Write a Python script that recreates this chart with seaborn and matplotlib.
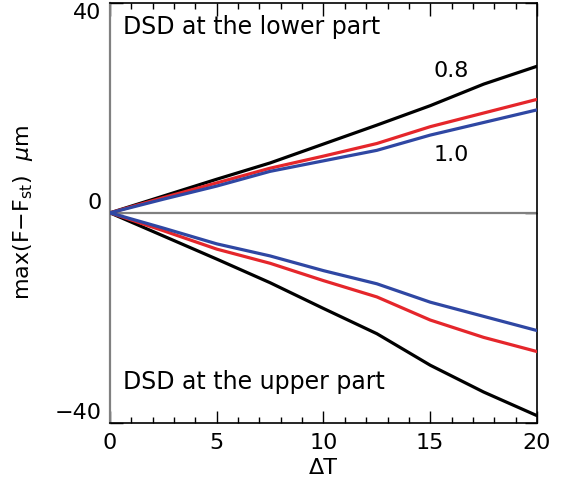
import matplotlib
matplotlib.use("Agg")
import matplotlib.pyplot as plt
import seaborn as sns
import pandas as pd
from matplotlib.ticker import MultipleLocator, FixedLocator

# Temperature perturbation (x axis)
dT = [0, 2.5, 5, 7.5, 10, 12.5, 15, 17.5, 20]

# max(F - F_st) in micrometres, DSD placed at the lower part
lower_08 = [0, 3.2, 6.4, 9.5, 13.1, 16.7, 20.4, 24.5, 27.9]
lower_09 = [0, 2.9, 5.7, 8.5, 10.8, 13.2, 16.4, 19.0, 21.6]
lower_10 = [0, 2.6, 5.1, 7.9, 9.9, 11.9, 14.8, 17.2, 19.6]

# max(F - F_st) in micrometres, DSD placed at the upper part
upper_08 = [0, -4.4, -8.8, -13.3, -18.2, -23.0, -29.0, -34.1, -38.6]
upper_09 = [0, -3.4, -6.9, -9.6, -12.9, -16.0, -20.4, -23.7, -26.4]
upper_10 = [0, -2.9, -5.9, -8.2, -11.0, -13.5, -17.0, -19.7, -22.4]

ratios = ["0.8", "0.9", "1.0"]
colors = {"0.8": "#000000", "0.9": "#e5262b", "1.0": "#2f47a3"}

x_ticks = [0, 5, 10, 15, 20]
y_ticks = [-40, 0, 40]
y_ticklabels = ["\u221240", "0", "40"]

rows = []
for part, series in (("lower", [lower_08, lower_09, lower_10]),
                     ("upper", [upper_08, upper_09, upper_10])):
    for r, vals in zip(ratios, series):
        for x, v in zip(dT, vals):
            rows.append({"dT": x, "value": v, "ratio": r, "part": part})
df = pd.DataFrame(rows)

sns.set_style("white")
plt.rcParams["font.family"] = ["DejaVu Sans"]
plt.rcParams["mathtext.fontset"] = "dejavusans"
plt.rcParams["text.color"] = "black"
plt.rcParams["axes.labelcolor"] = "black"
plt.rcParams["xtick.color"] = "black"
plt.rcParams["ytick.color"] = "black"

fig = plt.figure(figsize=(5.62, 4.90), dpi=100)
ax = fig.add_axes([0.1957, 0.1367, 0.7598, 0.8578])

ax.axhline(0, color="#808080", lw=1.6, zorder=1)

sns.lineplot(data=df, x="dT", y="value", hue="ratio", units="part",
             estimator=None, palette=colors, hue_order=ratios,
             linewidth=2.3, legend=False, ax=ax, zorder=3)

ax.set_xlim(0, 20)
ax.set_ylim(-40, 40)

for side in ("top", "right", "bottom", "left"):
    ax.spines[side].set_visible(True)
    ax.spines[side].set_color("black")
    ax.spines[side].set_linewidth(1.2)
ax.spines["left"].set_color("#808080")
ax.spines["left"].set_linewidth(1.6)

ax.xaxis.set_major_locator(FixedLocator(x_ticks))
ax.xaxis.set_minor_locator(MultipleLocator(1))
ax.tick_params(axis="x", which="major", direction="in", length=9, width=1.0,
               top=True, bottom=True, pad=7, labelsize=16, colors="black")
ax.tick_params(axis="x", which="minor", direction="in", length=4.5, width=1.0,
               top=True, bottom=True, colors="black")

ax.set_yticks(y_ticks)
ax.set_yticklabels(y_ticklabels)
ax.tick_params(axis="y", which="major", direction="in", length=9, width=1.0,
               left=True, right=True, pad=6, labelsize=16, colors="black")
for t in ax.yaxis.get_major_ticks():
    t.tick1line.set_color("#808080")
labels = ax.get_yticklabels()
labels[0].set_va("bottom")
labels[1].set_va("bottom")
labels[2].set_va("top")

ax.set_xlabel("\u0394T", fontsize=16, labelpad=4)
ax.set_ylabel(r"max(F$-$F$_{\rm st}$)  $\mu$m", fontsize=16, labelpad=14)

ax.text(0.6, 35.3, "DSD at the lower part", fontsize=17, ha="left", va="center")
ax.text(0.6, -32.2, "DSD at the upper part", fontsize=17, ha="left", va="center")
ax.text(16.0, 27, "0.8", fontsize=16, ha="center", va="center")
ax.text(16.0, 11, "1.0", fontsize=16, ha="center", va="center")

fig.savefig("out.png", dpi=100)
